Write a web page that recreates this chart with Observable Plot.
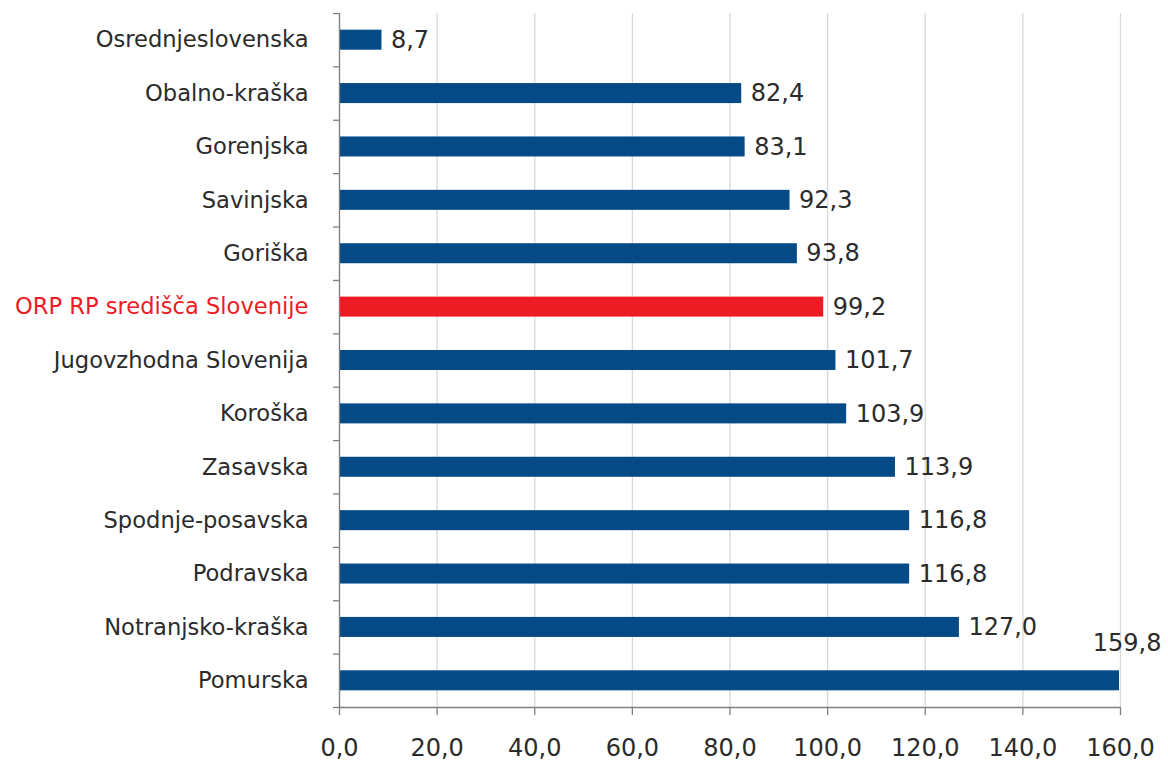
<!DOCTYPE html>
<html>
<head>
<meta charset="utf-8">
<script src="https://cdn.jsdelivr.net/npm/d3@7"></script>
<script src="https://cdn.jsdelivr.net/npm/@observablehq/plot@0.6"></script>
<style>
  html, body { margin: 0; padding: 0; background: #fff; }
  #chart svg { display: block; }
</style>
</head>
<body>
<div id="chart"></div>
<script>
const regions = [
  "Osrednjeslovenska",
  "Obalno-kraška",
  "Gorenjska",
  "Savinjska",
  "Goriška",
  "ORP RP središča Slovenije",
  "Jugovzhodna Slovenija",
  "Koroška",
  "Zasavska",
  "Spodnje-posavska",
  "Podravska",
  "Notranjsko-kraška",
  "Pomurska"
];
const values = [8.7, 82.4, 83.1, 92.3, 93.8, 99.2, 101.7, 103.9, 113.9, 116.8, 116.8, 127.0, 159.8];
const highlighted = ["ORP RP središča Slovenije"];
const xTicks = [0, 20, 40, 60, 80, 100, 120, 140, 160];

const data = regions.map((name, i) => ({name, i, value: values[i], hl: highlighted.includes(name)}));
const fmt = v => v.toFixed(1).replace(".", ",");
const half = 0.1875;
const boundaries = d3.range(regions.length + 1).map(k => k - 0.5);

const chart = Plot.plot({
  width: 1168,
  height: 763,
  marginTop: 13,
  marginBottom: 56,
  marginLeft: 339,
  marginRight: 48,
  style: {fontFamily: "DejaVu Sans", color: "#2b2b2b", background: "#fff"},
  x: {domain: [0, 160]},
  y: {domain: [regions.length - 0.5, -0.5]},
  marks: [
    Plot.gridX(xTicks, {stroke: "#d9d9d9", strokeOpacity: 1, strokeWidth: 1.3}),
    Plot.rectX(data, {x1: 0, x2: "value", y1: d => d.i - half, y2: d => d.i + half, fill: d => d.hl ? "#ed1c24" : "#034a87"}),
    Plot.ruleX([0], {stroke: "#7f7f7f", strokeWidth: 1.3}),
    Plot.ruleY([regions.length - 0.5], {stroke: "#7f7f7f", strokeWidth: 1.3}),
    Plot.axisY({ticks: boundaries, tickFormat: () => "", tickSize: 6, stroke: "#7f7f7f", strokeWidth: 1.3, label: null}),
    Plot.axisX({ticks: xTicks, tickFormat: fmt, tickSize: 8, tickPadding: 23, fontSize: 24, stroke: "#7f7f7f", strokeWidth: 1.3, label: null}),
    Plot.text(data, {y: "i", frameAnchor: "left", dx: -31, textAnchor: "end", text: "name", fontSize: 22.6, fill: d => d.hl ? "#ed1c24" : "#2b2b2b"}),
    Plot.text(data.filter(d => d.value < 150), {x: "value", y: "i", text: d => fmt(d.value), textAnchor: "start", dx: 9, fontSize: 24, fill: "#2b2b2b"}),
    Plot.text(data.filter(d => d.value >= 150), {x: "value", y: "i", text: d => fmt(d.value), textAnchor: "end", dx: 42, dy: -37, fontSize: 24, fill: "#2b2b2b"})
  ]
});
document.getElementById("chart").append(chart);
</script>
</body>
</html>
